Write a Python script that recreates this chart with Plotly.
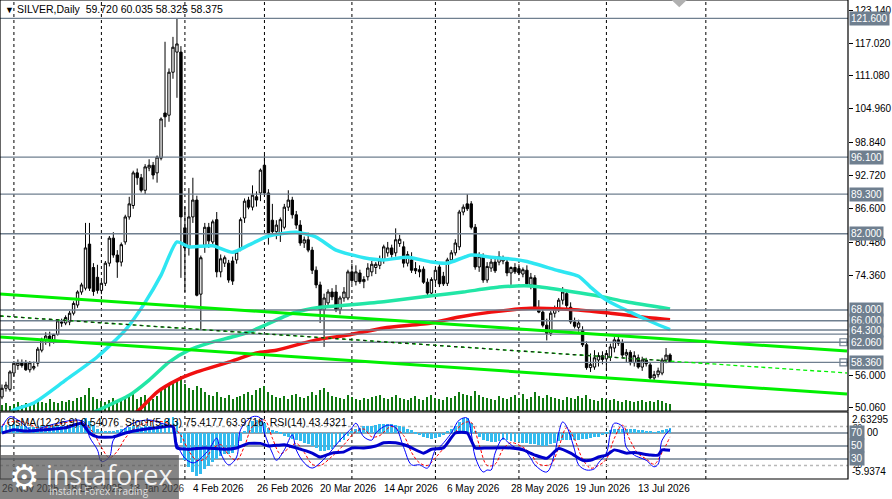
import plotly.graph_objects as go

# daily candles, bar 0 = 26 Nov 2025
opens = [52.0, 53.6, 53.4, 56.4, 57.8, 58.3, 58.2, 57.0, 57.3, 58.2,
         60.6, 62.4, 63.2, 62.3, 63.5, 65.8, 65.6, 65.8, 67.4, 68.9,
         71.3, 72.0, 80.1, 75.8, 74.0, 71.6, 72.9, 76.6, 81.2, 78.1,
         76.8, 80.5, 85.1, 87.2, 93.2, 92.3, 90.0, 94.1, 94.6, 93.2,
         95.9, 104.2, 103.8, 111.7, 115.4, 115.4, 83.1, 79.4, 85.1, 88.2,
         70.9, 79.9, 83.2, 80.5, 84.6, 75.0, 76.6, 76.6, 77.0, 77.2,
         79.4, 84.9, 88.2, 86.9, 88.8, 89.5, 94.6, 89.5, 84.5, 82.4,
         82.1, 83.2, 86.9, 88.2, 85.5, 83.6, 80.3, 80.9, 79.0, 75.3,
         72.6, 68.0, 69.3, 71.3, 71.3, 68.0, 70.2, 70.2, 75.0, 73.2,
         74.8, 73.2, 74.1, 75.0, 75.8, 76.2, 77.2, 78.5, 79.4, 78.5,
         80.2, 79.6, 76.6, 77.2, 75.6, 75.4, 75.5, 73.1, 71.1, 73.5,
         75.9, 74.2, 72.9, 77.2, 78.5, 79.6, 86.0, 87.5, 87.5, 83.2,
         75.9, 77.8, 73.5, 75.7, 76.8, 76.8, 77.0, 76.8, 74.8, 75.8,
         75.6, 74.6, 75.3, 72.6, 73.9, 68.3, 67.6, 65.2, 63.7, 67.4,
         68.3, 69.8, 71.0, 68.5, 65.8, 64.8, 64.3, 61.6, 57.4, 57.5,
         58.8, 59.6, 59.0, 59.3, 61.0, 62.5, 61.9, 59.7, 60.2, 58.3,
         59.2, 57.5, 58.8, 57.9, 55.5, 56.1, 56.4, 58.8, 59.72]
highs = [54.3, 54.8, 56.9, 58.6, 58.9, 58.9, 58.8, 58.6, 58.5, 61.2,
         62.9, 63.9, 64.0, 63.6, 66.3, 66.4, 67.0, 67.8, 69.6, 71.6,
         73.0, 84.0, 84.0, 76.6, 76.3, 73.4, 77.0, 81.6, 82.3, 79.0,
         80.4, 85.5, 88.8, 93.6, 94.0, 93.0, 94.8, 95.7, 95.2, 96.4,
         103.4, 117.3, 112.4, 118.2, 121.6, 116.5, 87.0, 90.4, 92.3, 89.0,
         78.0, 84.0, 84.0, 84.6, 86.0, 78.2, 78.0, 77.2, 77.8, 79.0,
         85.0, 88.5, 88.8, 90.9, 89.8, 94.0, 96.5, 90.2, 87.5, 84.5,
         85.0, 87.5, 90.0, 88.8, 86.2, 84.5, 81.5, 82.2, 79.6, 76.0,
         73.2, 71.0, 71.8, 72.0, 72.6, 70.6, 72.2, 75.4, 76.5, 76.2,
         75.4, 74.2, 76.6, 77.0, 76.8, 78.0, 80.0, 80.5, 80.0, 83.0,
         81.8, 80.6, 78.8, 78.6, 76.8, 76.2, 76.0, 73.8, 74.0, 75.8,
         76.4, 75.0, 77.6, 79.0, 81.0, 86.4, 87.4, 89.3, 88.0, 83.8,
         78.6, 78.4, 76.8, 77.4, 77.6, 78.8, 78.0, 77.6, 76.0, 76.6,
         76.4, 75.8, 76.2, 74.8, 74.4, 69.8, 68.4, 66.4, 67.8, 68.8,
         70.2, 72.2, 71.6, 69.4, 66.6, 66.2, 65.0, 62.2, 60.0, 60.6,
         60.2, 60.4, 60.6, 61.8, 63.0, 63.2, 62.6, 60.8, 60.6, 60.4,
         59.8, 59.4, 59.2, 58.4, 56.8, 57.4, 59.2, 61.0, 60.035]
lows = [51.6, 53.0, 53.0, 55.8, 57.0, 57.4, 56.8, 56.5, 56.9, 57.6,
        60.2, 61.6, 61.3, 61.8, 63.3, 64.9, 65.2, 65.2, 67.0, 68.4,
        70.8, 71.6, 71.5, 70.6, 71.0, 70.9, 72.4, 76.0, 77.6, 73.9,
        76.0, 80.0, 84.6, 86.6, 91.0, 89.6, 89.3, 93.5, 92.0, 91.4,
        95.5, 101.6, 102.6, 110.5, 107.0, 73.9, 71.3, 78.0, 84.0, 70.5,
        64.3, 78.5, 79.4, 79.8, 74.0, 74.0, 75.9, 73.0, 72.6, 76.5,
        78.8, 84.0, 86.5, 86.3, 87.0, 88.0, 89.0, 80.0, 81.6, 81.0,
        80.5, 82.8, 86.2, 84.8, 82.9, 79.8, 79.4, 78.6, 74.6, 72.0,
        65.6, 61.2, 68.4, 69.8, 67.6, 67.2, 69.5, 69.8, 72.8, 72.5,
        72.8, 72.0, 73.4, 74.2, 74.6, 75.5, 76.5, 77.8, 77.6, 77.8,
        79.6, 75.8, 76.0, 74.8, 74.6, 74.0, 72.8, 70.6, 70.6, 72.8,
        72.2, 72.4, 72.4, 76.8, 78.0, 79.0, 85.4, 86.2, 82.8, 75.4,
        75.0, 73.0, 73.0, 75.0, 74.8, 76.2, 76.4, 74.2, 72.6, 74.6,
        74.4, 74.0, 72.4, 71.8, 68.0, 67.4, 64.8, 62.4, 63.2, 66.6,
        67.6, 69.0, 68.2, 65.4, 64.6, 64.0, 61.2, 57.0, 56.6, 57.0,
        57.6, 58.0, 56.8, 58.6, 60.2, 61.4, 59.2, 58.4, 57.8, 57.6,
        57.2, 56.8, 57.6, 55.2, 55.0, 55.6, 56.0, 58.2, 58.325]
closes = [53.6, 54.2, 56.6, 58.2, 58.3, 57.8, 57.0, 58.3, 57.6, 60.8,
          62.5, 63.2, 62.3, 63.5, 66.0, 65.6, 66.6, 67.4, 69.2, 71.3,
          72.6, 79.4, 72.0, 71.4, 71.6, 72.9, 76.6, 81.2, 78.1, 76.8,
          80.0, 85.1, 87.5, 93.2, 92.3, 90.0, 94.3, 94.6, 92.8, 96.1,
          103.1, 103.5, 111.7, 116.3, 116.9, 85.1, 79.4, 85.1, 88.2, 70.7,
          77.6, 83.2, 80.7, 84.2, 75.0, 77.4, 77.6, 73.5, 73.3, 78.6,
          84.6, 88.0, 86.9, 89.1, 88.2, 93.7, 89.5, 82.1, 82.4, 83.6,
          84.6, 86.9, 88.2, 85.5, 83.6, 80.3, 80.9, 79.0, 75.3, 72.6,
          68.0, 70.2, 71.3, 70.4, 68.0, 70.2, 71.3, 75.0, 73.4, 75.0,
          73.2, 73.6, 75.7, 76.4, 76.4, 77.2, 79.6, 79.4, 78.2, 80.9,
          81.0, 76.6, 78.2, 75.3, 75.2, 75.0, 73.1, 71.1, 73.6, 75.3,
          72.8, 72.8, 77.2, 78.5, 80.3, 86.0, 86.9, 86.6, 83.2, 75.9,
          77.8, 73.5, 76.0, 76.8, 75.2, 77.8, 77.4, 74.8, 75.8, 75.0,
          74.8, 75.4, 72.8, 74.0, 68.3, 67.6, 65.2, 63.7, 67.4, 68.3,
          69.8, 71.3, 68.8, 65.8, 65.0, 65.6, 61.6, 57.4, 58.0, 59.2,
          59.6, 58.9, 60.0, 61.2, 62.5, 61.9, 59.7, 60.2, 58.3, 59.6,
          57.5, 58.8, 58.1, 55.5, 56.1, 56.8, 58.8, 59.7, 58.375]
volumes = [6, 8, 5, 7, 9, 6, 8, 5, 7, 10, 9, 8, 12, 9, 8, 10, 9, 11, 10, 13, 14,
           16, 22, 14, 12, 10, 9, 11, 13, 10, 12, 14,
           15, 18, 12, 14, 16, 13, 12, 15, 20, 24, 26, 28, 30, 34,
           26, 22, 20, 24, 22, 18, 16, 15, 18, 14, 13, 16, 12, 14, 15,
           17, 18, 16, 20, 22, 24, 18, 16, 14, 13, 15, 12, 16, 17, 14, 13, 15, 18, 16, 20,
           22, 18, 15, 14, 13, 12, 16, 14, 12, 11, 13, 12, 14, 15, 16, 13, 12, 14, 16, 13,
           12, 11, 13, 15, 12, 11, 14, 16, 13, 12, 11, 14, 13, 15, 18, 17, 16, 15, 19, 16,
           14, 13, 12, 11, 15, 13, 12, 14, 16, 13, 17, 12, 14, 18, 15, 13, 16, 14, 13, 12,
           11, 14, 13, 12, 15, 13, 16, 12, 11, 10, 13, 12, 11, 12, 10, 9, 11, 10, 9, 10,
           11, 9, 10, 9, 11, 10, 8, 7]

# moving averages read at sample bars
ma_fast_bars = [0, 3, 8, 16, 24, 31, 36, 40, 44, 47, 53, 58, 62, 67, 74, 79, 84, 91, 96,
                102, 108, 112, 118, 123, 129, 132, 140, 145, 148, 152, 158, 164, 168]
ma_fast_vals = [47.8, 49.6, 50.9, 55.1, 59.4, 64.3, 69.4, 74.4, 80.5, 79.6, 79.8, 78.6, 79.9,
                81.6, 82.3, 81.4, 79.0, 77.6, 77.2, 77.7, 76.8, 76.6, 78.1, 77.7, 77.3, 76.9,
                75.2, 74.2, 72.2, 69.8, 67.6, 65.6, 64.4]
ma_mid_bars = [20, 24, 32, 37, 42, 47, 52, 62, 73, 80, 87, 96, 108, 116, 125, 133, 149, 157, 168]
ma_mid_vals = [48.2, 49.5, 52.3, 55.1, 58.4, 60.6, 61.9, 63.9, 67.4, 68.5, 68.9, 69.5, 70.6,
               71.3, 72.2, 72.4, 70.7, 69.5, 68.2]
ma_slow_bars = [30, 34, 39, 44, 49, 57, 64, 69, 79, 87, 96, 108, 115, 123, 133, 145, 153, 161, 168]
ma_slow_vals = [47.5, 49.3, 52.9, 55.1, 56.6, 58.4, 60.1, 60.6, 62.5, 63.4, 64.7, 65.6, 66.7,
                67.6, 68.3, 68.0, 67.4, 66.7, 66.2]

# horizontal levels and trend lines (bar, price)
levels = [121.6, 96.1, 89.3, 82.0, 68.0, 66.0, 64.3, 63.55, 62.06, 58.36]
level_labels = ["121.600", "96.100", "89.300", "82.000", "68.000", "66.000", "64.300", "", "62.060", "58.360"]
channel_top = [(-0.5, 70.93), (212.5, 60.46)]
channel_mid = [(-0.5, 66.89), (212.5, 56.41)]
channel_low = [(-0.5, 63.03), (212.5, 52.55)]

# indicator window
osma = [0.9, 1.0, 1.0, 1.1, 1.0, 0.9, 0.8, 0.7, 0.7, 0.8,
        0.9, 0.9, 0.8, 0.8, 0.9, 0.9, 0.9, 1.0, 1.0, 1.1,
        1.6, 1.9, 1.5, 1.0, 0.5, 0.2, 0.1, 0.1, 0.2, 0.3,
        0.5, 0.6, 0.7, 0.9, 0.8, 0.7, 0.8, 0.8, 0.7, 0.8,
        1.2, 1.6, 1.9, 2.0, 1.5, -1.3, -3.5, -4.4, -5.1, -5.6,
        -5.3, -4.7, -4.3, -3.8, -3.4, -3.0, -2.8, -2.8, -2.6, -2.1,
        -1.1, 0.2, 1.0, 1.5, 1.6, 1.5, 1.2, 0.6, 0.3, 0.1,
        -0.2, -0.4, -0.6, -0.8, -0.9, -1.1, -1.3, -1.5, -1.7, -2.0,
        -2.3, -2.3, -2.2, -2.1, -1.6, -1.2, -0.9, -0.4, 0.1, 0.5,
        0.6, 0.8, 0.85, 0.9, 1.0, 1.1, 1.1, 1.1, 1.1, 1.0,
        0.9, 0.7, 0.5, 0.3, -0.1, -0.3, -0.5, -0.7, -0.8, -0.7,
        -0.5, -0.3, 0.1, 0.5, 0.9, 1.4, 1.9, 1.9, 1.2, 0.2,
        -0.6, -0.9, -1.1, -1.2, -1.2, -1.1, -1.0, -1.0, -1.1, -1.2,
        -1.2, -1.3, -1.3, -1.4, -1.5, -1.6, -1.7, -1.7, -1.5, -1.3,
        -1.1, -1.0, -1.0, -1.0, -0.9, -0.9, -0.8, -0.8, -0.7, -0.6,
        -0.5, -0.3, -0.2, 0.3, 0.5, 0.5, 0.5, 0.45, 0.4, 0.4,
        0.35, 0.3, 0.2, 0.1, 0.05, 0.2, 0.35, 0.5, 0.54]
stoch_bars = [0, 2, 4, 8, 10, 14, 19, 21, 22, 24, 25, 27, 28, 30, 33, 37, 40, 43, 44, 46,
              48, 49, 52, 54, 55, 57, 59, 60, 63, 65, 66, 68, 69, 71, 73, 74, 76, 78, 80, 83,
              85, 88, 89, 91, 93, 94, 97, 99, 101, 103, 105, 107, 109, 110, 113, 115, 117, 118,
              119, 121, 122, 123, 124, 126, 127, 129, 131, 133, 134, 137, 139, 140, 141, 142,
              144, 145, 147, 149, 150, 152, 153, 154, 156, 157, 159, 160, 162, 164, 165, 166, 168]
stoch_main = [79, 95, 90, 72, 78, 85, 90, 85, 64, 44, 26, 33, 59, 72, 85, 90, 85, 78, 54, 31,
              24, 26, 44, 62, 39, 21, 33, 75, 95, 93, 70, 39, 28, 44, 67, 44, 24, 16, 24, 44,
              59, 78, 85, 64, 59, 70, 82, 78, 48, 21, 21, 16, 44, 48, 70, 90, 93, 70,
              33, 10, 13, 13, 39, 62, 57, 48, 46, 31, 21, 10, 39, 70, 87, 80,
              44, 21, 13, 15, 24, 39, 70, 85, 80, 48, 36, 33, 28, 18, 22, 59, 75.4]
signal_bars = [0, 3, 6, 9, 12, 16, 20, 23, 25, 27, 29, 31, 34, 38, 42, 45, 47, 49, 51, 53,
               55, 57, 59, 61, 63, 66, 68, 70, 72, 74, 76, 78, 80, 83, 86, 89, 91, 93, 95, 98,
               101, 103, 105, 107, 109, 111, 113, 116, 118, 120, 122, 124, 126, 128, 131, 133,
               135, 138, 140, 142, 144, 146, 148, 150, 152, 154, 156, 158, 160, 162, 164, 166, 168]
stoch_signal = [82, 88, 86, 78, 80, 86, 88, 70, 48, 32, 42, 62, 80, 88, 84, 66, 42, 28, 30, 46,
                52, 36, 28, 50, 80, 90, 62, 38, 46, 54, 40, 22, 20, 34, 52, 72, 76, 64, 66, 80,
                66, 40, 24, 20, 32, 46, 62, 85, 86, 52, 20, 22, 45, 55, 48, 38,
                22, 22, 48, 78, 60, 30, 16, 20, 30, 62, 82, 58, 38, 30, 22, 40, 63.97]
rsi_bars = [0, 3, 6, 11, 16, 20, 22, 24, 28, 31, 35, 39, 43, 44, 47, 51, 56, 59, 62, 65, 67,
            71, 74, 78, 80, 83, 86, 88, 91, 94, 96, 99, 102, 106, 108, 111, 114, 117, 119, 122,
            128, 131, 134, 137, 140, 143, 146, 148, 150, 152, 154, 157, 159, 163, 165, 166, 168]
rsi_vals = [70, 75, 73, 75, 78, 85, 70, 64, 64, 70, 75, 78, 80, 47, 45, 47, 45, 47, 54, 54, 50,
            52, 47, 39, 33, 39, 41, 47, 47, 50, 55, 55, 50, 39, 45, 47, 70, 70, 47, 47,
            47, 44, 36, 31, 46, 39, 28, 28, 33, 36, 44, 39, 40, 36, 36, 44, 43.43]

# x axis labels and month grid
date_labels = ["26 Nov 2025", "18 Dec 2025", "13 Jan 2026", "4 Feb 2026", "26 Feb 2026",
               "20 Mar 2026", "14 Apr 2026", "6 May 2026", "28 May 2026", "19 Jun 2026", "13 Jul 2026"]
date_bars = [0, 16, 32, 48, 64, 80, 96, 112, 128, 144, 160]
month_bars = [3, 25, 46, 66, 88, 109, 130, 152, 177]
price_ticks = [123.14, 117.02, 111.08, 104.96, 98.84, 92.72, 86.60, 80.48, 74.36, 56.00, 50.06]

FONT = "Liberation Sans"
LEVEL_GREY = "#6F7F8F"
PRICE_DOM = [0.142, 1.0]
IND_DOM = [0.0, 0.1399]

bars = list(range(len(closes)))

fig = go.Figure()

fig.add_trace(go.Bar(x=bars, y=volumes, yaxis="y", marker_color="#107A10", marker_line_width=0,
                     width=0.3, hoverinfo="skip"))
fig.add_trace(go.Candlestick(x=bars, open=opens, high=highs, low=lows, close=closes, yaxis="y2",
                             increasing=dict(line=dict(color="black", width=1), fillcolor="white"),
                             decreasing=dict(line=dict(color="black", width=1), fillcolor="black"),
                             whiskerwidth=0))
for bx, vals, col in [(ma_slow_bars, ma_slow_vals, "#F01010"),
                      (ma_mid_bars, ma_mid_vals, "#22E6A6"),
                      (ma_fast_bars, ma_fast_vals, "#2EE6F2")]:
    fig.add_trace(go.Scatter(x=bx, y=vals, yaxis="y2", mode="lines",
                             line=dict(color=col, width=3.5, shape="spline", smoothing=0.6),
                             hoverinfo="skip"))

# little squares at the end of the price lines
fig.add_trace(go.Scatter(x=[211.6, 211.6], y=[62.06, 58.36], yaxis="y2", mode="markers",
                         marker=dict(symbol="square-open", size=7, color=LEVEL_GREY,
                                     line=dict(width=1.2)), hoverinfo="skip"))

# indicator window
fig.add_trace(go.Bar(x=bars, y=osma, yaxis="y4", marker_color="#33BBEE", marker_line_width=0,
                     width=0.72, hoverinfo="skip"))
fig.add_trace(go.Scatter(x=signal_bars, y=stoch_signal, yaxis="y5", mode="lines",
                         line=dict(color="#FF0000", width=1, dash="3px,2px", shape="spline"),
                         hoverinfo="skip"))
fig.add_trace(go.Scatter(x=stoch_bars, y=stoch_main, yaxis="y5", mode="lines",
                         line=dict(color="#0000FF", width=1, shape="spline"), hoverinfo="skip"))
fig.add_trace(go.Scatter(x=rsi_bars, y=rsi_vals, yaxis="y5", mode="lines",
                         line=dict(color="#0000CC", width=3, shape="spline", smoothing=0.5),
                         hoverinfo="skip"))

shapes = []
for b in month_bars:
    shapes.append(dict(type="line", xref="x", yref="paper", x0=b, x1=b, y0=0, y1=1, layer="below",
                       line=dict(color="black", width=1, dash="3px,3px")))
for lv in levels:
    shapes.append(dict(type="line", xref="paper", yref="y2", x0=0, x1=1, y0=lv, y1=lv,
                       line=dict(color=LEVEL_GREY, width=1.4)))
for (x0, y0), (x1, y1) in [channel_top, channel_low]:
    shapes.append(dict(type="line", xref="x", yref="y2", x0=x0, y0=y0, x1=x1, y1=y1,
                       line=dict(color="#00F000", width=3)))
(mx0, my0), (mx1, my1) = channel_mid
shapes.append(dict(type="line", xref="x", yref="y2", x0=mx0, y0=my0, x1=mx1, y1=my1,
                   line=dict(color="#00F000", width=1.3, dash="4px,3px")))
m_end = my0 + (my1 - my0) * (168 - mx0) / (mx1 - mx0)
shapes.append(dict(type="line", xref="x", yref="y2", x0=mx0, y0=my0, x1=168, y1=m_end,
                   line=dict(color="#202020", width=1.3, dash="3px,4px")))
# indicator levels
for lv, dash, col in [(80, "3px,3px", "#B8B8B8"), (20, "3px,3px", "#B8B8B8"),
                      (70, "solid", LEVEL_GREY), (50, "solid", LEVEL_GREY), (30, "solid", LEVEL_GREY)]:
    shapes.append(dict(type="line", xref="paper", yref="y5", x0=0, x1=1, y0=lv, y1=lv, layer="below",
                       line=dict(color=col, width=1.4, dash=dash)))
# window frames
shapes.append(dict(type="rect", xref="paper", yref="paper", x0=0, x1=1, y0=PRICE_DOM[0], y1=PRICE_DOM[1],
                   line=dict(color="black", width=1.2)))
shapes.append(dict(type="rect", xref="paper", yref="paper", x0=0, x1=1, y0=IND_DOM[0], y1=IND_DOM[1],
                   line=dict(color="black", width=1.2)))
# shift marker at the top
shapes.append(dict(type="path", xref="paper", yref="paper",
                   path="M 0.792,1.0 L 0.810,1.0 L 0.801,0.985 Z",
                   fillcolor="#B0B0B0", line=dict(width=0)))
# logo box
shapes.append(dict(type="rect", xref="paper", yref="paper", x0=0, x1=0.211, y0=-0.042, y1=0.05,
                   fillcolor="rgba(85,85,85,0.72)", line=dict(width=0)))

ann = []
ann.append(dict(xref="paper", yref="paper", x=0.003, y=0.994, xanchor="left", yanchor="top",
                text="▼", showarrow=False, font=dict(family=FONT, size=9, color="black")))
ann.append(dict(xref="paper", yref="paper", x=0.018, y=0.998, xanchor="left", yanchor="top",
                text="SILVER,Daily  59.720 60.035 58.325 58.375", showarrow=False,
                font=dict(family=FONT, size=10.5, color="black")))
ann.append(dict(xref="paper", yref="paper", x=0.006, y=0.119, xanchor="left", yanchor="middle",
                text="OsMA(12,26,9) 0.54076  Stoch(5,3,3) 75.4177 63.9716  RSI(14) 43.4321",
                showarrow=False, font=dict(family=FONT, size=10.5, color="black")))
for lv, lab in zip(levels, level_labels):
    if lab:
        ann.append(dict(xref="paper", yref="y2", x=1, y=lv, xanchor="left", yanchor="middle",
                        xshift=1, text=lab, showarrow=False, bgcolor=LEVEL_GREY, borderpad=1,
                        font=dict(family=FONT, size=10, color="white")))
# indicator scale
for val, txt, sz in [(2.63295, "2.63295", 10), (-5.9374, "-5.9374", 10)]:
    ann.append(dict(xref="paper", yref="y4", x=1, y=val, xanchor="left",
                    yanchor="top" if val > 0 else "bottom", xshift=2, text=txt, showarrow=False,
                    font=dict(family=FONT, size=sz, color="black")))
for lv in [80, 20]:
    ann.append(dict(xref="paper", yref="y5", x=1, y=lv, xanchor="left", yanchor="middle", xshift=3,
                    text=str(lv), showarrow=False, font=dict(family=FONT, size=8, color="black")))
ann.append(dict(xref="paper", yref="y5", x=1, y=70, xanchor="left", yanchor="middle", xshift=17,
                text="00", showarrow=False, font=dict(family=FONT, size=10, color="black")))
for lv in [70, 50, 30]:
    ann.append(dict(xref="paper", yref="y5", x=1, y=lv, xanchor="left", yanchor="middle", xshift=1,
                    text=str(lv), showarrow=False, bgcolor=LEVEL_GREY, borderpad=1,
                    font=dict(family=FONT, size=10, color="white")))
# dates (the first three sit under the watermark, so they look dimmed)
for b, lab in zip(date_bars, date_labels):
    col = "#3C3C3C" if b < 40 else "black"
    ann.append(dict(xref="x", yref="paper", x=b - 0.5, y=0, xanchor="left", yanchor="top", yshift=-2,
                    text=lab, showarrow=False,
                    font=dict(family=FONT, size=10, color=col)))
# logo
ann.append(dict(xref="paper", yref="paper", x=0.008, y=0.004, xanchor="left", yanchor="middle",
                text="⚙", showarrow=False, font=dict(family="DejaVu Sans", size=34, color="white")))
ann.append(dict(xref="paper", yref="paper", x=0.052, y=0.01, xanchor="left", yanchor="middle",
                text="instaforex", showarrow=False,
                font=dict(family="Open Sans", size=27, color="rgba(255,255,255,0.92)")))
ann.append(dict(xref="paper", yref="paper", x=0.055, y=-0.026, xanchor="left", yanchor="middle",
                text="Instant Forex Trading", showarrow=False,
                font=dict(family="Open Sans", size=10, color="rgba(255,255,255,0.75)")))

fig.update_layout(
    width=892, height=499,
    margin=dict(l=0, r=39, t=0, b=20),
    paper_bgcolor="white", plot_bgcolor="white",
    showlegend=False, bargap=0, boxgap=0.15,
    font=dict(family=FONT, size=10, color="black"),
    xaxis=dict(range=[-0.5, 212.75], showgrid=False, zeroline=False, showticklabels=False,
               showline=False, rangeslider=dict(visible=False), fixedrange=True),
    yaxis=dict(domain=PRICE_DOM, range=[0, 400], visible=False),
    yaxis2=dict(overlaying="y", side="right", anchor="x", range=[49.426, 124.978],
                tickvals=price_ticks, ticktext=[f"{v:.3f}" for v in price_ticks],
                ticks="outside", ticklen=4, tickcolor="black", showgrid=False, zeroline=False,
                showline=False, tickfont=dict(family=FONT, size=10, color="black")),
    yaxis4=dict(domain=IND_DOM, range=[-5.9374, 2.63295], visible=False),
    yaxis5=dict(overlaying="y4", range=[-0.8, 102.3], visible=False),
    shapes=shapes,
    annotations=ann,
)

# page margin off so the chart sits at the window corner
fig.write_html("out.html", config={"displayModeBar": False},
               post_script="document.body.style.margin='0';document.body.style.overflow='hidden';")
